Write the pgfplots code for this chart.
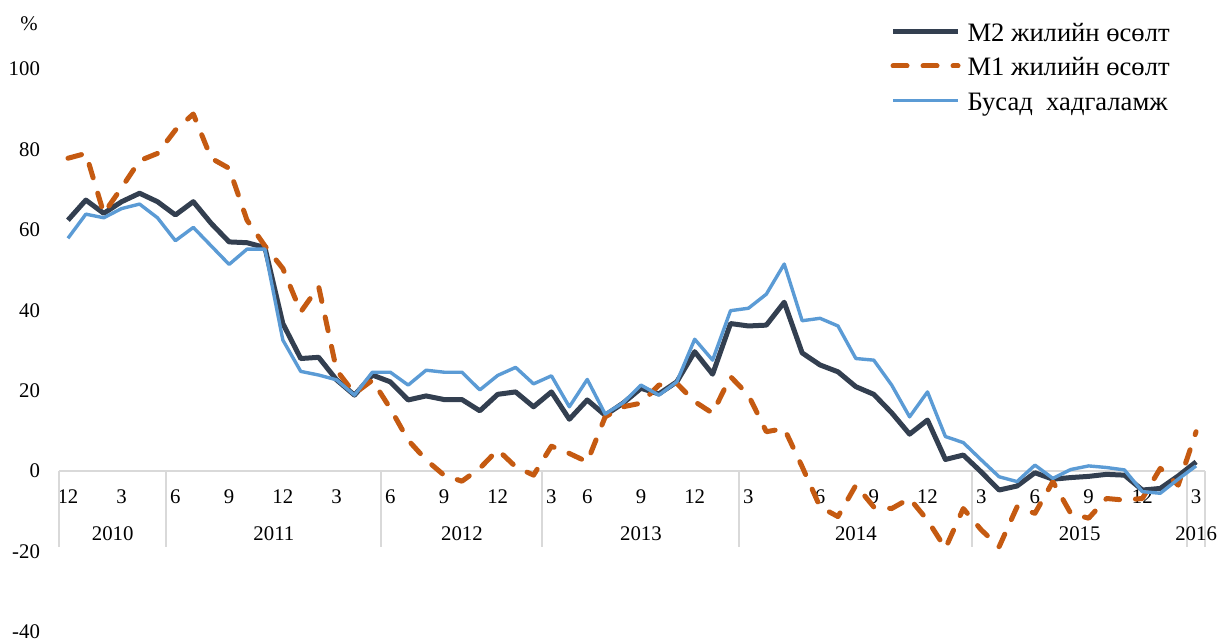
\documentclass[border=0pt]{standalone}
\usepackage{fontspec}
\setmainfont{Liberation Serif}
\usepackage{pgfplots}
\usepackage{pgfplotstable}
\pgfplotsset{compat=1.18}
\definecolor{mtwo}{HTML}{333F50}
\definecolor{mone}{HTML}{C55A11}
\definecolor{busad}{HTML}{5B9BD5}
\definecolor{axgray}{HTML}{D9D9D9}
\pgfplotstableread{
i m2 m1 bs
0 62.4 77.8 57.9
1 67.4 79.0 63.9
2 64.1 64.1 63.0
3 67.0 70.5 65.3
4 69.1 77.2 66.4
5 67.0 79.0 63.0
6 63.7 84.8 57.3
7 67.0 88.8 60.6
8 61.6 77.8 56.0
9 57.0 75.3 51.4
10 56.8 62.4 55.2
11 55.6 56.0 55.2
12 36.7 50.4 32.6
13 28.0 39.6 24.8
14 28.3 45.9 23.9
15 22.7 25.1 22.7
16 18.9 19.3 18.9
17 23.9 22.6 24.6
18 22.2 15.6 24.6
19 17.7 7.7 21.4
20 18.7 2.8 25.1
21 17.8 -1.0 24.6
22 17.8 -2.5 24.6
23 15.0 0.7 20.2
24 19.1 5.3 23.8
25 19.7 1.1 25.8
26 16.0 -1.0 21.7
27 19.7 6.2 23.7
28 12.9 4.4 16.0
29 17.7 2.3 22.8
30 13.9 13.5 14.2
31 16.9 16.0 17.0
32 20.6 16.9 21.4
33 19.2 21.4 18.9
34 22.2 21.8 22.2
35 29.7 17.3 32.8
36 24.1 14.4 27.6
37 36.7 23.5 39.9
38 36.1 18.9 40.5
39 36.3 9.8 44.0
40 42.0 10.6 51.5
41 29.4 1.1 37.4
42 26.4 -8.9 38.0
43 24.7 -11.3 36.1
44 21.0 -3.5 28.0
45 19.1 -8.9 27.6
46 14.5 -9.3 21.4
47 9.2 -6.8 13.5
48 12.7 -12.2 19.7
49 2.9 -19.2 8.6
50 4.0 -9.3 7.1
51 -0.2 -14.6 2.8
52 -4.7 -18.8 -1.4
53 -3.7 -8.9 -2.6
54 -0.4 -10.5 1.5
55 -2.0 -2.6 -1.8
56 -1.6 -10.5 0.4
57 -1.3 -11.7 1.3
58 -0.8 -6.8 0.9
59 -1.0 -7.2 0.3
60 -4.7 -6.8 -5.1
61 -4.3 0.7 -5.5
62 -1.2 -3.5 -2.0
63 2.3 9.8 1.3
}\datatable
\begin{document}
\begin{tikzpicture}
\begin{axis}[
  x=8.953pt, y=2.0107pt,
  xmin=-0.5, xmax=63.5, ymin=-40, ymax=100,
  axis x line*=middle, axis y line*=left,
  x axis line style={draw=axgray, line width=1pt},
  y axis line style={draw=none},
  hide obscured x ticks=false, hide obscured y ticks=false,
  major tick length=0pt,
  ytick={-40,-20,0,20,40,60,80,100},
  xtick={0,3,6,9,12,15,18,21,24,27,29,32,35,38,42,45,48,51,54,57,60,63},
  xticklabels={12,3,6,9,12,3,6,9,12,3,6,9,12,3,6,9,12,3,6,9,12,3},
  tick label style={font=\fontsize{10.4}{12}\selectfont},
  /pgf/number format/assume math mode=true,
  xticklabel style={yshift=-6pt},
  yticklabel style={xshift=-6pt},
  clip=false,
  legend style={draw=none, fill=none, at={(axis description cs:0.7252,1.0886)}, anchor=north west,
    inner sep=0pt, row sep=5.25pt, column sep=3.5pt, font=\fontsize{13.3}{15}\selectfont,
    nodes={inner sep=0pt, text height=11pt, text depth=1pt}},
  legend cell align=left,
  legend image code/.code={\draw[#1] (1.25pt,0pt) -- (33.75pt,0pt);},
]
\draw[axgray, line width=1pt] (axis cs:-0.5,0) -- (axis cs:-0.5,-18.8);
\draw[axgray, line width=1pt] (axis cs:5.5,0) -- (axis cs:5.5,-18.8);
\draw[axgray, line width=1pt] (axis cs:17.5,0) -- (axis cs:17.5,-18.8);
\draw[axgray, line width=1pt] (axis cs:26.5,0) -- (axis cs:26.5,-18.8);
\draw[axgray, line width=1pt] (axis cs:37.5,0) -- (axis cs:37.5,-18.8);
\draw[axgray, line width=1pt] (axis cs:50.5,0) -- (axis cs:50.5,-18.8);
\draw[axgray, line width=1pt] (axis cs:62.5,0) -- (axis cs:62.5,-18.8);
\draw[axgray, line width=1pt] (axis cs:63.5,0) -- (axis cs:63.5,-18.8);
\addplot[mtwo, line width=2.5pt, line join=round] table[x=i,y=m2]{\datatable};
\addlegendentry{M2 жилийн өсөлт}
\addplot[mone, line width=2.5pt, line cap=round, line join=round, dash pattern=on 7pt off 8pt] table[x=i,y=m1]{\datatable};
\addlegendentry{M1 жилийн өсөлт}
\addplot[busad, line width=1.7pt, line join=round] table[x=i,y=bs]{\datatable};
\addlegendentry{Бусад\ \ хадгаламж}
\node[font=\fontsize{10.4}{12}\selectfont] at (axis cs:2.5,-15.64) {2010};
\node[font=\fontsize{10.4}{12}\selectfont] at (axis cs:11.5,-15.64) {2011};
\node[font=\fontsize{10.4}{12}\selectfont] at (axis cs:22,-15.64) {2012};
\node[font=\fontsize{10.4}{12}\selectfont] at (axis cs:32,-15.64) {2013};
\node[font=\fontsize{10.4}{12}\selectfont] at (axis cs:44,-15.64) {2014};
\node[font=\fontsize{10.4}{12}\selectfont] at (axis cs:56.5,-15.64) {2015};
\node[font=\fontsize{10.4}{12}\selectfont] at (axis cs:63,-15.64) {2016};
\node[font=\fontsize{10.4}{12}\selectfont] at (axis cs:-2.175,111.3) {\%};
\coordinate (bbll) at (axis cs:-3.795,-41.75);
\coordinate (bbur) at (axis cs:64.28,117.15);
\end{axis}
\pgfresetboundingbox
\path[use as bounding box] (bbll) rectangle (bbur);
\end{tikzpicture}
\end{document}
